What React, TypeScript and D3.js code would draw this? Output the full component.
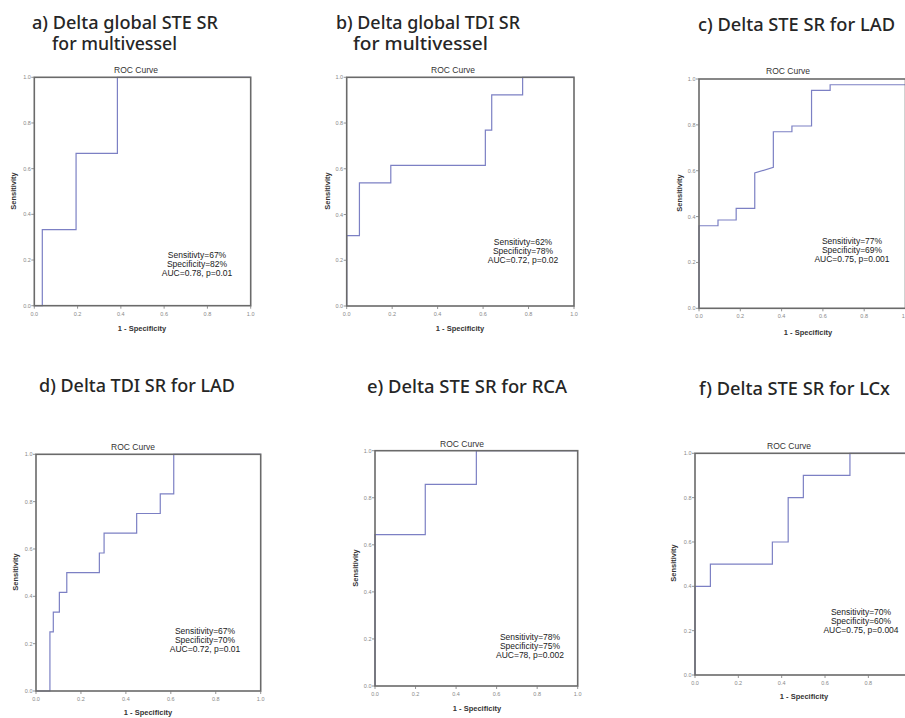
import React from "react";
import * as d3 from "d3";

// ---- Data ----
const fprA = [0, 0.037, 0.037, 0.193, 0.193, 0.384, 0.384, 1.0];
const tprA = [0, 0, 0.333, 0.333, 0.667, 0.667, 1.0, 1.0];

const fprB = [0, 0, 0.056, 0.056, 0.194, 0.194, 0.61, 0.61, 0.638, 0.638, 0.774, 0.774, 1.0];
const tprB = [0, 0.308, 0.308, 0.538, 0.538, 0.615, 0.615, 0.769, 0.769, 0.923, 0.923, 1.0, 1.0];

const fprC = [0, 0, 0.092, 0.092, 0.18, 0.18, 0.27, 0.27, 0.36, 0.36, 0.45, 0.45, 0.545, 0.545, 0.635, 0.635, 1.0];
const tprC = [0, 0.36, 0.36, 0.385, 0.385, 0.436, 0.436, 0.59, 0.615, 0.77, 0.77, 0.795, 0.795, 0.95, 0.95, 0.975, 0.975];

const fprD = [0, 0.062, 0.062, 0.077, 0.077, 0.104, 0.104, 0.137, 0.137, 0.282, 0.282, 0.303, 0.303, 0.448, 0.448, 0.553, 0.553, 0.613, 0.613, 1.0];
const tprD = [0, 0, 0.25, 0.25, 0.333, 0.333, 0.417, 0.417, 0.5, 0.5, 0.583, 0.583, 0.667, 0.667, 0.75, 0.75, 0.833, 0.833, 1.0, 1.0];

const fprE = [0, 0, 0.248, 0.248, 0.5, 0.5, 1.0];
const tprE = [0, 0.643, 0.643, 0.857, 0.857, 1.0, 1.0];

const fprF = [0, 0, 0.071, 0.071, 0.357, 0.357, 0.43, 0.43, 0.5, 0.5, 0.715, 0.715, 1.0];
const tprF = [0, 0.4, 0.4, 0.5, 0.5, 0.6, 0.6, 0.8, 0.8, 0.9, 0.9, 1.0, 1.0];

const tickValues = [0, 0.2, 0.4, 0.6, 0.8, 1.0];

const titlesA = ["a) Delta global STE SR", "for multivessel"];
const titlesB = ["b) Delta global TDI SR", "for multivessel"];
const titlesC = ["c) Delta STE SR for LAD"];
const titlesD = ["d) Delta TDI SR for LAD"];
const titlesE = ["e) Delta STE SR for RCA"];
const titlesF = ["f) Delta STE SR for LCx"];

const annA = ["Sensitivty=67%", "Specificity=82%", "AUC=0.78, p=0.01"];
const annB = ["Sensitivty=62%", "Specificity=78%", "AUC=0.72, p=0.02"];
const annC = ["Sensitivity=77%", "Specificity=69%", "AUC=0.75, p=0.001"];
const annD = ["Sensitivity=67%", "Specificity=70%", "AUC=0.72, p=0.01"];
const annE = ["Sensitivity=78%", "Specificity=75%", "AUC=78, p=0.002"];
const annF = ["Sensitivity=70%", "Specificity=60%", "AUC=0.75, p=0.004"];

// ---- Layout ----
type Panel = {
  titles: string[];
  tx: number[];
  ty: number[];
  tw: number[];
  plot: { x: number; y: number; w: number; h: number };
  roc: [number, number];
  ann: [number, number];
  annText: string[];
  xl: [number, number];
  yl: [number, number];
  fpr: number[];
  tpr: number[];
};

const panels: Panel[] = [
  {
    titles: titlesA, tx: [32, 52], ty: [29, 50], tw: [186, 125],
    plot: { x: 34.3, y: 77.3, w: 216.4, h: 228.4 },
    roc: [136, 73], ann: [197, 258], annText: annA, xl: [142, 331], yl: [13, 191],
    fpr: fprA, tpr: tprA,
  },
  {
    titles: titlesB, tx: [336, 353], ty: [29, 50], tw: [184, 135],
    plot: { x: 346.7, y: 77.3, w: 227.3, h: 228.7 },
    roc: [453, 73], ann: [523, 245], annText: annB, xl: [460, 331], yl: [327, 191],
    fpr: fprB, tpr: tprB,
  },
  {
    titles: titlesC, tx: [698], ty: [31], tw: [197],
    plot: { x: 699, y: 79, w: 206.5, h: 229.3 },
    roc: [788, 74], ann: [852, 244], annText: annC, xl: [808, 335], yl: [679, 193],
    fpr: fprC, tpr: tprC,
  },
  {
    titles: titlesD, tx: [39], ty: [392], tw: [196],
    plot: { x: 36, y: 454.3, w: 224.7, h: 236.7 },
    roc: [133, 450], ann: [205, 634], annText: annD, xl: [148, 715], yl: [15, 572],
    fpr: fprD, tpr: tprD,
  },
  {
    titles: titlesE, tx: [367], ty: [393], tw: [200],
    plot: { x: 375, y: 450.7, w: 202.7, h: 235.3 },
    roc: [462, 447], ann: [530, 640], annText: annE, xl: [477, 711], yl: [355, 568],
    fpr: fprE, tpr: tprE,
  },
  {
    titles: titlesF, tx: [699], ty: [395], tw: [191],
    plot: { x: 695, y: 453.3, w: 216.7, h: 221.7 },
    roc: [789, 449], ann: [861, 615], annText: annF, xl: [804, 699], yl: [673, 563],
    fpr: fprF, tpr: tprF,
  },
];

const fmt = d3.format(".1f");

function RocPanel({ p }: { p: Panel }) {
  const { x, y, w, h } = p.plot;
  const xs = d3.scaleLinear().domain([0, 1]).range([x, x + w]);
  const ys = d3.scaleLinear().domain([0, 1]).range([y + h, y]);
  const pts = p.fpr.map((f, i) => [f, p.tpr[i]] as [number, number]);
  const line = d3
    .line<[number, number]>()
    .x((d) => xs(d[0]))
    .y((d) => ys(d[1]));
  return (
    <g>
      {p.titles.map((t, i) => (
        <text
          key={i}
          x={p.tx[i]}
          y={p.ty[i]}
          fontFamily="'Noto Sans', 'Open Sans', sans-serif"
          fontWeight={500}
          fontSize={17.5}
          fill="#262626"
          textLength={p.tw[i]}
          lengthAdjust="spacingAndGlyphs"
        >
          {t}
        </text>
      ))}
      <text
        x={p.roc[0]}
        y={p.roc[1]}
        textAnchor="middle"
        fontFamily="'Liberation Sans', Arial, sans-serif"
        fontSize={8.5}
        fill="#333"
      >
        ROC Curve
      </text>
      <path d={line(pts) || ""} fill="none" stroke="#7c80c4" strokeWidth={1.2} />
      <rect x={x} y={y} width={w} height={h} fill="none" stroke="#6a6a6a" strokeWidth={1.6} />
      {tickValues.map((t) => (
        <g key={"x" + t}>
          <line x1={xs(t)} x2={xs(t)} y1={y + h} y2={y + h + 3} stroke="#777" strokeWidth={0.8} />
          <text
            x={xs(t)}
            y={y + h + 10}
            textAnchor="middle"
            fontFamily="'Liberation Sans', Arial, sans-serif"
            fontSize={5.5}
            fill="#888"
          >
            {fmt(t)}
          </text>
        </g>
      ))}
      {tickValues.map((t) => (
        <g key={"y" + t}>
          <line x1={x - 3} x2={x} y1={ys(t)} y2={ys(t)} stroke="#777" strokeWidth={0.8} />
          <text
            x={x - 3.5}
            y={ys(t) + 2}
            textAnchor="end"
            fontFamily="'Liberation Sans', Arial, sans-serif"
            fontSize={5.5}
            fill="#888"
          >
            {fmt(t)}
          </text>
        </g>
      ))}
      <text
        x={p.xl[0]}
        y={p.xl[1]}
        textAnchor="middle"
        fontFamily="'Liberation Sans', Arial, sans-serif"
        fontWeight="bold"
        fontSize={7.5}
        fill="#333"
      >
        1 - Specificity
      </text>
      <text
        transform={`translate(${p.yl[0] + 3},${p.yl[1]}) rotate(-90)`}
        textAnchor="middle"
        fontFamily="'Liberation Sans', Arial, sans-serif"
        fontWeight="bold"
        fontSize={7.5}
        fill="#333"
      >
        Sensitivity
      </text>
      {p.annText.map((t, i) => (
        <text
          key={i}
          x={p.ann[0]}
          y={p.ann[1] + i * 9}
          textAnchor="middle"
          fontFamily="'Liberation Sans', Arial, sans-serif"
          fontSize={8.5}
          fill="#1a1a1a"
        >
          {t}
        </text>
      ))}
    </g>
  );
}

export default function App() {
  return (
    <svg
      width={905}
      height={718}
      style={{ position: "absolute", left: 0, top: 0, background: "#fff" }}
    >
      <rect x={0} y={0} width={905} height={718} fill="#fff" />
      {panels.map((p, i) => (
        <RocPanel key={i} p={p} />
      ))}
    </svg>
  );
}
